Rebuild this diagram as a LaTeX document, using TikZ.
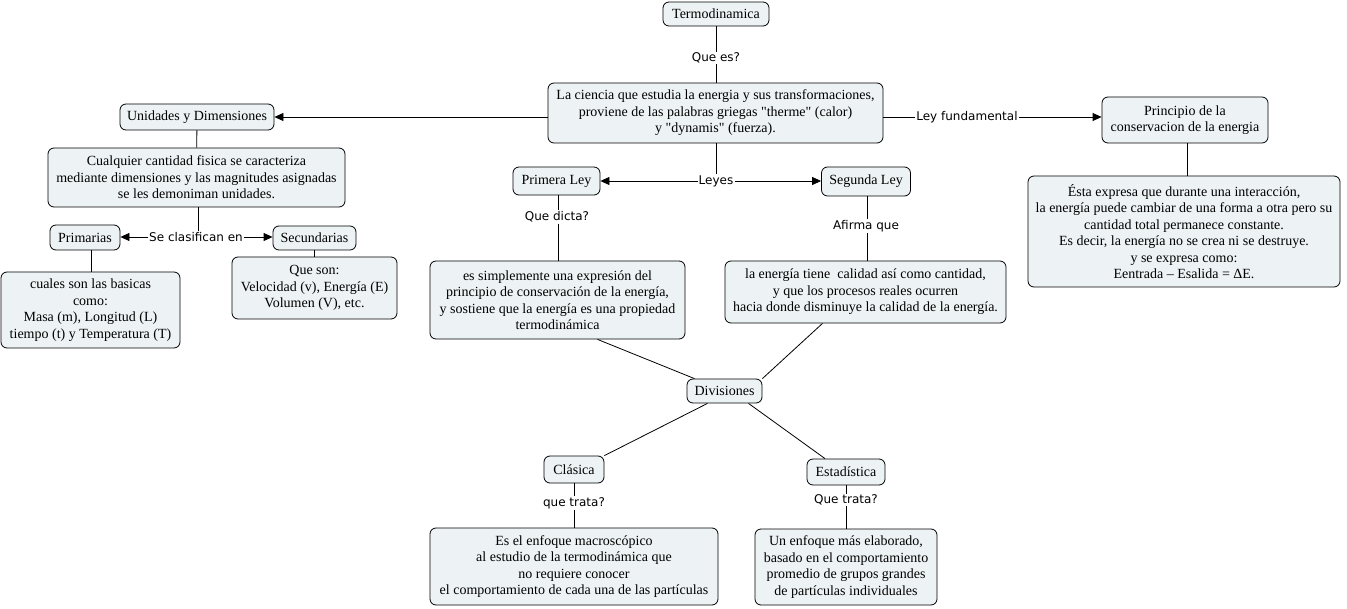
\documentclass[tikz,border=0pt]{standalone}
\usepackage{fontspec}
\setmainfont{Liberation Serif}[Ligatures=TeXOff]
\newfontfamily\lblfont{DejaVu Sans}
\usetikzlibrary{arrows.meta}
\definecolor{boxfill}{RGB}{237,243,245}
\tikzset{
  cbox/.style={draw=black, fill=boxfill, rounded corners=6pt, line width=0.8pt,
    align=center, inner sep=2pt, font=\fontsize{14}{16.5}\selectfont},
  lbl/.style={fill=white, inner sep=1pt, font=\lblfont\fontsize{12}{14}\selectfont},
  conn/.style={line width=0.8pt},
  arr/.style={line width=0.8pt, -{Triangle[length=9pt,width=8pt]}}
}
\begin{document}
\begin{tikzpicture}[x=1pt,y=-1pt]
\useasboundingbox (0,0) rectangle (1347,609);
% boxes
\node[cbox, minimum width=106, minimum height=24] (termo) at (716,14) {Termodinamica};
\node[cbox, minimum width=335, minimum height=60] (main) at (715.5,113) {La ciencia que estudia la energia y sus transformaciones,\\ proviene de las palabras griegas "therme" (calor)\\ y "dynamis" (fuerza).};
\node[cbox, minimum width=154, minimum height=26] (und) at (197,117) {Unidades y Dimensiones};
\node[cbox, minimum width=297, minimum height=59] (cual) at (196.5,177.5) {Cualquier cantidad fisica se caracteriza\\ mediante dimensiones y las magnitudes asignadas\\ se les demoniman unidades.};
\node[cbox, minimum width=70, minimum height=25] (prim) at (85,237.5) {Primarias};
\node[cbox, minimum width=83, minimum height=24] (sec) at (314.5,238) {Secundarias};
\node[cbox, minimum width=179, minimum height=76] (cuales) at (90.5,310) {cuales son las basicas\\ como:\\ Masa (m), Longitud (L)\\ tiempo (t) y Temperatura (T)};
\node[cbox, minimum width=165, minimum height=62] (queson) at (314.5,288) {Que son:\\ Velocidad (v), Energía (E)\\ Volumen (V), etc.};
\node[cbox, minimum width=166, minimum height=46] (prin) at (1185,120) {Principio de la\\ conservacion de la energia};
\node[cbox, minimum width=312, minimum height=111] (desc) at (1184,231.5) {Ésta expresa que durante una interacción,\\ la energía puede cambiar de una forma a otra pero su\\ cantidad total permanece constante.\\ Es decir, la energía no se crea ni se destruye.\\ y se expresa como:\\ Eentrada – Esalida = ΔE.};
\node[cbox, minimum width=87, minimum height=28] (ley1) at (556.5,181) {Primera Ley};
\node[cbox, minimum width=89, minimum height=29] (ley2) at (866,181.5) {Segunda Ley};
\node[cbox, minimum width=255, minimum height=78] (es) at (557.5,300) {es simplemente una expresión del\\ principio de conservación de la energía,\\ y sostiene que la energía es una propiedad\\ termodinámica};
\node[cbox, minimum width=281, minimum height=62] (laen) at (865.5,292) {la energía tiene\ \ calidad así como cantidad,\\ y que los procesos reales ocurren\\ hacia donde disminuye la calidad de la energía.};
\node[cbox, minimum width=75, minimum height=24] (div) at (724.5,391) {Divisiones};
\node[cbox, minimum width=60, minimum height=27] (cla) at (574,469.5) {Clásica};
\node[cbox, minimum width=78, minimum height=26] (est) at (846,472) {Estadística};
\node[cbox, minimum width=288, minimum height=77] (esel) at (574,566.5) {Es el enfoque macroscópico\\ al estudio de la termodinámica que\\ no requiere conocer\\ el comportamiento de cada una de las partículas};
\node[cbox, minimum width=182, minimum height=76] (un) at (846,567) {Un enfoque más elaborado,\\ basado en el comportamiento\\ promedio de grupos grandes\\ de partículas individuales};
% labels
\node[lbl] (lqe) at (716,58) {Que es?};
\node[lbl] (llf) at (967,117) {Ley fundamental};
\node[lbl] (lley) at (716,181) {Leyes};
\node[lbl] (lsc) at (196,237) {Se clasifican en};
\node[lbl] (lqd) at (557,217) {Que dicta?};
\node[lbl] (laq) at (866,226) {Afirma que};
\node[lbl] (lqt1) at (574,503) {que trata?};
\node[lbl] (lqt2) at (846,500) {Que trata?};
% connectors
\draw[conn] (termo) -- (lqe);
\draw[conn] (lqe) -- (lqe |- main.north);
\draw[arr] (main.west |- und) -- (und.east);
\draw[conn] (main.east |- llf) -- (llf);
\draw[arr] (llf) -- (llf -| prin.west);
\draw[conn] (prin.south -| 1187,0) -- (desc.north -| 1187,0);
\draw[conn] (und) -- (cual);
\draw[conn] (cual.south -| 198,0) -- (lsc.north -| 198,0);
\draw[arr] (lsc.west) -- (lsc -| prim.east);
\draw[arr] (lsc.east) -- (lsc -| sec.west);
\draw[conn] (prim.south -| 91,0) -- (cuales.north -| 91,0);
\draw[conn] (sec) -- (queson);
\draw[conn] (main.south -| lley) -- (lley);
\draw[arr] (lley.west) -- (lley -| ley1.east);
\draw[arr] (lley.east) -- (lley -| ley2.west);
\draw[conn] (ley1.south -| 558,0) -- (lqd.north -| 558,0);
\draw[conn] (lqd.south -| 558,0) -- (es.north -| 558,0);
\draw[conn] (ley2.south -| 867,0) -- (laq.north -| 867,0);
\draw[conn] (laq.south -| 867,0) -- (laen.north -| 867,0);
\draw[conn] ([xshift=40]es.south) -- ([xshift=-30]div.north);
\draw[conn] ([xshift=-43]laen.south) -- (div.north east);
\draw[conn] ([xshift=-17]div.south) -- (cla.north east);
\draw[conn] ([xshift=24]div.south) -- ([xshift=-21]est.north);
\draw[conn] (cla) -- (lqt1);
\draw[conn] (lqt1) -- (esel);
\draw[conn] (est) -- (lqt2);
\draw[conn] (lqt2) -- (un);
\end{tikzpicture}
\end{document}
